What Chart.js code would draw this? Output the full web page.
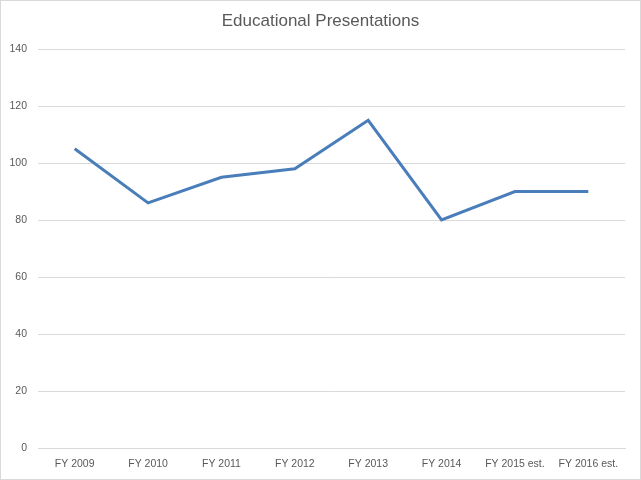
<!DOCTYPE html>
<html>
<head>
<meta charset="utf-8">
<script src="https://cdn.jsdelivr.net/npm/chart.js@4"></script>
<style>
  html, body { margin: 0; padding: 0; background: #fff; }
  #wrap { width: 641px; height: 480px; position: relative; }
</style>
</head>
<body>
<div id="wrap"><canvas id="chart" width="641" height="480"></canvas></div>
<script>
const categories = ["FY 2009", "FY 2010", "FY 2011", "FY 2012", "FY 2013", "FY 2014", "FY 2015 est.", "FY 2016 est."];
const presentations = [105, 86, 95, 98, 115, 80, 90, 90];
const yMin = 0, yMax = 140, yStep = 20;

const fontFamily = "'Liberation Sans Narrow', 'Liberation Sans', Arial, sans-serif";
const textColor = "#595959";
const gridColor = "#d9d9d9";

// Light outer frame like the exported chart
const frame = {
  id: "frame",
  afterDraw(chart) {
    const ctx = chart.ctx;
    ctx.save();
    ctx.strokeStyle = "#d9d9d9";
    ctx.lineWidth = 1;
    ctx.strokeRect(0.5, 0.5, chart.width - 1, chart.height - 1);
    ctx.restore();
  }
};

new Chart(document.getElementById("chart"), {
  type: "line",
  data: {
    labels: categories,
    datasets: [{
      label: "Educational Presentations",
      data: presentations,
      borderColor: "#4a7ebb",
      borderWidth: 3,
      pointRadius: 0,
      tension: 0,
      fill: false
    }]
  },
  options: {
    responsive: false,
    animation: false,
    layout: { padding: 0 },
    plugins: {
      legend: { display: false },
      tooltip: { enabled: false },
      title: {
        display: true,
        text: "Educational Presentations",
        color: textColor,
        font: { family: fontFamily, size: 17, weight: "normal", lineHeight: 1.2 },
        padding: { top: 11, bottom: 17.6 }
      }
    },
    scales: {
      x: {
        offset: true,
        grid: { display: false, drawTicks: false },
        border: { display: true, color: gridColor, width: 1 },
        ticks: {
          color: textColor,
          font: { family: fontFamily, size: 10.5 },
          padding: 10,
          maxRotation: 0,
          autoSkip: false
        },
        afterFit(scale) { scale.height = 32; }
      },
      y: {
        min: yMin,
        max: yMax,
        grid: { color: gridColor, drawTicks: false },
        border: { display: false },
        ticks: {
          stepSize: yStep,
          color: textColor,
          font: { family: fontFamily, size: 10.5 },
          padding: 11
        },
        afterFit(scale) { scale.width = 38; }
      },
      // empty right gutter so the title stays centred on the whole chart
      yRight: {
        position: "right",
        min: yMin,
        max: yMax,
        grid: { display: false, drawTicks: false },
        border: { display: false },
        ticks: { display: false },
        afterFit(scale) { scale.width = 16; }
      }
    }
  },
  plugins: [frame]
});
</script>
</body>
</html>
